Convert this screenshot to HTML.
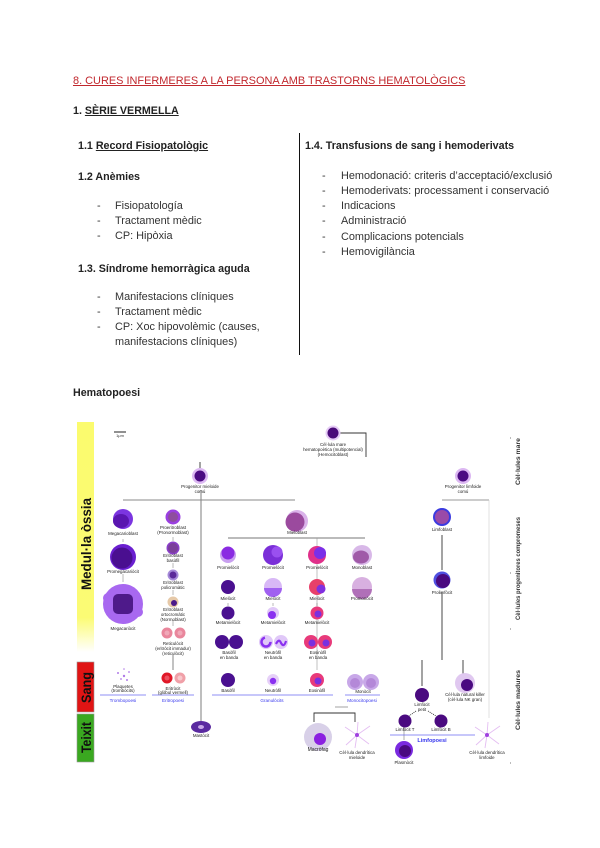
<!DOCTYPE html>
<html><head><meta charset="utf-8">
<style>
html,body{margin:0;padding:0;background:#fff;}
body{width:600px;height:848px;position:relative;overflow:hidden;font-family:"Liberation Sans",sans-serif;}
.t{position:absolute;white-space:nowrap;font-size:10.7px;line-height:12px;color:#222;}
.b{font-weight:bold;}
.u{text-decoration:underline;}
.li{color:#333;font-size:10.9px;}
</style></head><body>

<div class="t" style="left:73px;top:75px;font-size:10.95px;color:#c1272d;text-decoration:underline;">8. CURES INFERMERES A LA PERSONA AMB TRASTORNS HEMATOLÒGICS</div>
<div class="t b" style="left:73px;top:105px;">1. <span class="u">SÈRIE VERMELLA</span></div>

<div class="t b" style="left:78px;top:140px;">1.1 <span class="u">Record Fisiopatològic</span></div>
<div class="t b" style="left:78px;top:171px;">1.2 Anèmies</div>
<div class="t li" style="left:97px;top:200px;">-</div><div class="t li" style="left:115px;top:200px;">Fisiopatología</div>
<div class="t li" style="left:97px;top:215px;">-</div><div class="t li" style="left:115px;top:215px;">Tractament mèdic</div>
<div class="t li" style="left:97px;top:230px;">-</div><div class="t li" style="left:115px;top:230px;">CP: Hipòxia</div>
<div class="t b" style="left:78px;top:263px;">1.3. Síndrome hemorràgica aguda</div>
<div class="t li" style="left:97px;top:291px;">-</div><div class="t li" style="left:115px;top:291px;">Manifestacions clíniques</div>
<div class="t li" style="left:97px;top:306px;">-</div><div class="t li" style="left:115px;top:306px;">Tractament mèdic</div>
<div class="t li" style="left:97px;top:321px;">-</div><div class="t li" style="left:115px;top:321px;">CP: Xoc hipovolèmic (causes,</div>
<div class="t li" style="left:115px;top:336px;">manifestacions clíniques)</div>

<div style="position:absolute;left:298.5px;top:133px;width:1.4px;height:222px;background:#111;"></div>

<div class="t b" style="left:305px;top:140px;">1.4. Transfusions de sang i hemoderivats</div>
<div class="t li" style="left:322px;top:170px;">-</div><div class="t li" style="left:341px;top:170px;">Hemodonació: criteris d’acceptació/exclusió</div>
<div class="t li" style="left:322px;top:185px;">-</div><div class="t li" style="left:341px;top:185px;">Hemoderivats: processament i conservació</div>
<div class="t li" style="left:322px;top:200px;">-</div><div class="t li" style="left:341px;top:200px;">Indicacions</div>
<div class="t li" style="left:322px;top:215px;">-</div><div class="t li" style="left:341px;top:215px;">Administració</div>
<div class="t li" style="left:322px;top:231px;">-</div><div class="t li" style="left:341px;top:231px;">Complicacions potencials</div>
<div class="t li" style="left:322px;top:246px;">-</div><div class="t li" style="left:341px;top:246px;">Hemovigilància</div>

<div class="t b" style="left:73px;top:387px;">Hematopoesi</div>

<svg style="position:absolute;left:0;top:0;" width="600" height="848" viewBox="0 0 600 848" font-family="Liberation Sans, sans-serif">
<defs>
<linearGradient id="yg" x1="0" y1="0" x2="0" y2="1">
<stop offset="0" stop-color="#fbfb6e"/><stop offset="0.85" stop-color="#fbfb74"/><stop offset="1" stop-color="#ffffff"/>
</linearGradient>
</defs>
<!-- left bars -->
<rect x="77" y="422" width="17" height="230" fill="url(#yg)"/>
<rect x="77" y="662" width="17" height="50" fill="#e01414" stroke="#999" stroke-width="0.6"/>
<rect x="77" y="714" width="17" height="48" fill="#3aa820" stroke="#999" stroke-width="0.6"/>
<text transform="translate(91,590) rotate(-90)" font-size="14" font-weight="bold" fill="#111" textLength="92" lengthAdjust="spacingAndGlyphs">Medul·la òssia</text>
<text transform="translate(91,703) rotate(-90)" font-size="14" font-weight="bold" fill="#111" textLength="31" lengthAdjust="spacingAndGlyphs">Sang</text>
<text transform="translate(91,753) rotate(-90)" font-size="14" font-weight="bold" fill="#111" textLength="31" lengthAdjust="spacingAndGlyphs">Teixit</text>

<!-- right labels -->
<text transform="translate(520,485) rotate(-90)" font-size="6" font-weight="bold" fill="#333" textLength="47" lengthAdjust="spacingAndGlyphs">Cèl·lules mare</text>
<text transform="translate(520,620) rotate(-90)" font-size="6" font-weight="bold" fill="#333" textLength="103" lengthAdjust="spacingAndGlyphs">Cèl·lules progenitores compromeses</text>
<text transform="translate(520,730) rotate(-90)" font-size="6.5" font-weight="bold" fill="#333" textLength="60" lengthAdjust="spacingAndGlyphs">Cèl·lules madures</text>
<g fill="#bbb"><rect x="510" y="437" width="1" height="2"/><rect x="510" y="572" width="1" height="2"/><rect x="510" y="628" width="1" height="2"/><rect x="510" y="762" width="1" height="2"/></g>

<!-- scale -->
<line x1="114" y1="432" x2="126" y2="432" stroke="#222" stroke-width="1"/>
<text x="120" y="437" font-size="4" text-anchor="middle" fill="#333">1μm</text>

<!-- lines -->
<g stroke="#333" stroke-width="0.9" fill="none">
<polyline points="340,433 366,433 366,457"/>
<line x1="200" y1="462" x2="200" y2="468"/>
<line x1="123" y1="500" x2="295" y2="500" stroke="#888"/>
<line x1="201" y1="490" x2="201" y2="722" stroke="#888" stroke-width="1.1"/>
<line x1="228" y1="538" x2="365" y2="538" stroke="#777"/>
<line x1="317" y1="538" x2="317" y2="670" stroke="#999" stroke-width="0.6"/>
<line x1="442" y1="500" x2="489" y2="500" stroke="#999"/>
<line x1="489" y1="500" x2="489" y2="718" stroke="#ccc" stroke-width="0.6"/>
<line x1="442" y1="535" x2="442" y2="570"/>
<line x1="442" y1="592" x2="442" y2="660"/>
<line x1="422" y1="660" x2="422" y2="686"/>
<line x1="463" y1="660" x2="463" y2="675"/>
<line x1="173" y1="655" x2="173" y2="670" stroke="#777"/>
<polyline points="314,722 314,713 355,713 355,722"/>
<line x1="335" y1="707" x2="348" y2="707" stroke="#999"/>
<line x1="416" y1="711" x2="409" y2="716" stroke-dasharray="1,1"/>
<line x1="428" y1="711" x2="436" y2="716" stroke-dasharray="1,1"/>
<line x1="404" y1="728" x2="404" y2="740" stroke="#777" stroke-width="0.6"/>
</g>
<!-- small arrows in columns -->
<g stroke="#777" stroke-width="0.5">
<line x1="173" y1="537" x2="173" y2="541"/><line x1="173" y1="563" x2="173" y2="568"/><line x1="173" y1="590" x2="173" y2="595"/><line x1="173" y1="620" x2="173" y2="626"/>
<line x1="123" y1="539" x2="123" y2="542"/><line x1="123" y1="574" x2="123" y2="582"/>
<line x1="317" y1="603" x2="317" y2="606"/><line x1="273" y1="603" x2="273" y2="606"/><line x1="228" y1="603" x2="228" y2="606"/>
</g>

<!-- blue lines -->
<g stroke="#6a6af2" stroke-width="0.8">
<line x1="100" y1="695" x2="146" y2="695"/>
<line x1="152" y1="695" x2="194" y2="695"/>
<line x1="212" y1="695" x2="333" y2="695"/>
<line x1="345" y1="695" x2="380" y2="695"/>
<line x1="390" y1="735" x2="475" y2="735"/>
</g>
<g fill="#3838ee" font-size="4.6" text-anchor="middle">
<text x="123" y="702">Trombopoesi</text>
<text x="173" y="702">Eritropoesi</text>
<text x="272" y="702">Granulòcits</text>
<text x="362" y="702">Monocitopoesi</text>
<text x="432" y="742" font-size="5.5" font-weight="bold">Limfopoesi</text>
</g>

<!-- cells -->
<circle cx="333" cy="433" r="7.5" fill="#e6ccf6"/><circle cx="333" cy="433" r="5.5" fill="#4a0a7a"/>
<circle cx="200" cy="476" r="8" fill="#dcb8f2"/><circle cx="200" cy="476" r="5.5" fill="#4b0b82"/>
<circle cx="463" cy="476" r="8" fill="#dcb8f2"/><circle cx="463" cy="476" r="5.5" fill="#4b0b82"/>

<!-- megakaryocyte line -->
<circle cx="123" cy="519" r="10" fill="#7b35e0"/><ellipse cx="121" cy="521" rx="8" ry="7" fill="#5a16b0"/>
<circle cx="123" cy="557" r="13" fill="#6a1fd0"/><circle cx="122" cy="558" r="10.5" fill="#4a0f90"/>
<circle cx="123" cy="604" r="20" fill="#a868f0"/><circle cx="108" cy="598" r="5" fill="#a868f0"/><circle cx="138" cy="612" r="5" fill="#a868f0"/>
<rect x="113" y="594" width="20" height="20" rx="5" fill="#4e1a8a"/>
<g fill="#b07be8"><circle cx="118" cy="673" r="1"/><circle cx="124" cy="676" r="1.2"/><circle cx="129" cy="672" r="0.9"/><circle cx="121" cy="679" r="0.9"/><circle cx="127" cy="680" r="1"/><circle cx="124" cy="669" r="0.8"/></g>

<!-- erythroid -->
<circle cx="173" cy="517" r="7.5" fill="#9a3fe0"/><circle cx="173" cy="517" r="5" fill="#8e4d9e"/>
<circle cx="173" cy="548" r="6.5" fill="#8a3ec9"/><circle cx="173" cy="548" r="5" fill="#7b3f9a"/>
<circle cx="173" cy="575" r="5.5" fill="#a58ad8"/><circle cx="173" cy="575" r="3.5" fill="#5b2a9a"/>
<circle cx="173" cy="602" r="5.5" fill="#e6c9a8"/><circle cx="174" cy="603" r="3" fill="#4b1a8a"/>
<circle cx="167" cy="633" r="5.5" fill="#e9869c"/><circle cx="167" cy="633" r="2.5" fill="#f0a8b8"/>
<circle cx="180" cy="633" r="5.5" fill="#e9869c"/><circle cx="180" cy="633" r="2.5" fill="#f0a8b8"/>
<circle cx="167" cy="678" r="5.5" fill="#e01828"/><circle cx="167" cy="678" r="2.5" fill="#ee5060"/>
<circle cx="180" cy="678" r="5.5" fill="#f0a0a8"/><circle cx="180" cy="678" r="2.5" fill="#f8c8cc"/>

<!-- myeloid -->
<circle cx="297" cy="521" r="11" fill="#dab2ea"/><circle cx="295" cy="522" r="9.5" fill="#9b4a9e"/>
<circle cx="228" cy="555" r="8" fill="#c9a0f0"/><circle cx="228" cy="553" r="6.5" fill="#8a2be2"/>
<circle cx="273" cy="555" r="10" fill="#7b2fd8"/><circle cx="277" cy="552" r="5.5" fill="#9a50f0"/>
<circle cx="317" cy="555" r="9" fill="#e0308a"/><circle cx="320" cy="553" r="6" fill="#7a2fe8"/>
<circle cx="362" cy="555" r="10" fill="#d8b8e8"/><ellipse cx="361" cy="557" rx="8" ry="6.5" fill="#a05aa8"/>

<circle cx="228" cy="587" r="7" fill="#4a1090"/>
<circle cx="273" cy="587" r="9" fill="#d8b8f6"/><path d="M264,588 A9,9 0 0 0 282,588 Z" fill="#a060f0"/>
<circle cx="317" cy="587" r="8" fill="#e8406a"/><circle cx="321" cy="589" r="4.5" fill="#8030e0"/>
<circle cx="362" cy="587" r="10" fill="#d8b0e0"/><path d="M352,589 A10,10 0 0 0 372,589 Z" fill="#b070b8"/>

<circle cx="228" cy="613" r="6.5" fill="#4a1090"/>
<circle cx="273" cy="613" r="6" fill="#e0c8f8"/><circle cx="272" cy="615" r="4" fill="#8a30f0"/>
<circle cx="317" cy="613" r="6.5" fill="#e83a7a"/><circle cx="318" cy="614" r="3.5" fill="#7a30e0"/>

<circle cx="222" cy="642" r="7" fill="#4a1090"/><circle cx="236" cy="642" r="7" fill="#4a1090"/>
<circle cx="266" cy="642" r="7" fill="#e0c8f8"/><circle cx="266" cy="642" r="4.5" fill="none" stroke="#8a30f0" stroke-width="2.5" stroke-dasharray="20,8"/>
<circle cx="281" cy="642" r="7" fill="#e0c8f8"/><path d="M276,644 Q279,638 281,643 Q284,648 286,641" stroke="#8a30f0" stroke-width="2.2" fill="none"/>
<circle cx="311" cy="642" r="7" fill="#e83a7a"/><circle cx="312" cy="643" r="3.5" fill="#7a30e0"/>
<circle cx="325" cy="642" r="7" fill="#e83a7a"/><circle cx="326" cy="643" r="3.5" fill="#7a30e0"/>

<circle cx="228" cy="680" r="7" fill="#4a1090"/>
<circle cx="273" cy="680" r="6" fill="#e6d0f8"/><circle cx="273" cy="681" r="3.2" fill="#8a30f0"/>
<circle cx="317" cy="680" r="7" fill="#e83a7a"/><circle cx="318" cy="681" r="3.5" fill="#7a30e0"/>
<circle cx="355" cy="682" r="8" fill="#c8a8e8"/><circle cx="355" cy="683" r="5" fill="#b488d8"/>
<circle cx="371" cy="682" r="8" fill="#c8a8e8"/><circle cx="371" cy="683" r="5" fill="#b488d8"/>

<ellipse cx="201" cy="727" rx="10" ry="6" fill="#5a2aa0"/><ellipse cx="201" cy="727" rx="3" ry="2" fill="#c8a8e8"/>

<circle cx="318" cy="737" r="14" fill="#d8d0e8"/><circle cx="320" cy="739" r="6" fill="#8a20e0"/>
<g stroke="#e4bef2" stroke-width="0.9"><line x1="357" y1="735" x2="345" y2="727"/><line x1="357" y1="735" x2="370" y2="726"/><line x1="357" y1="735" x2="346" y2="745"/><line x1="357" y1="735" x2="369" y2="744"/><line x1="357" y1="735" x2="358" y2="722"/><line x1="357" y1="735" x2="355" y2="748"/></g>
<circle cx="357" cy="735" r="2" fill="#a040e0"/>

<!-- lymphoid -->
<circle cx="442" cy="517" r="9" fill="#3b3be0"/><circle cx="442" cy="517" r="7" fill="#9a4aa8"/>
<circle cx="442" cy="580" r="8.5" fill="#5050e0"/><circle cx="443" cy="581" r="7" fill="#4a0a80"/>
<circle cx="422" cy="695" r="7" fill="#4a0a80"/>
<circle cx="465" cy="683" r="10" fill="#e0c8f0"/><circle cx="467" cy="685" r="6" fill="#4a0a80"/>
<circle cx="405" cy="721" r="6.5" fill="#4a0a80"/>
<circle cx="441" cy="721" r="6.5" fill="#4a0a80"/>
<circle cx="404" cy="750" r="9" fill="#7a2ae0"/><circle cx="405" cy="751" r="6" fill="#4a0a80"/>
<g stroke="#e4bef2" stroke-width="0.9"><line x1="487" y1="735" x2="475" y2="727"/><line x1="487" y1="735" x2="500" y2="726"/><line x1="487" y1="735" x2="476" y2="745"/><line x1="487" y1="735" x2="499" y2="744"/><line x1="487" y1="735" x2="488" y2="722"/><line x1="487" y1="735" x2="485" y2="748"/></g>
<circle cx="487" cy="735" r="2" fill="#a040e0"/>

<!-- labels -->
<g fill="#222" font-size="4.4" text-anchor="middle">
<text x="333" y="446">Cèl·lula mare</text>
<text x="333" y="451">hematopoètica (multipotencial)</text>
<text x="333" y="456">(Hemocitoblast)</text>
<text x="200" y="488">Progenitor mieloide</text>
<text x="200" y="493">comú</text>
<text x="463" y="488">Progenitor limfoide</text>
<text x="463" y="493">comú</text>
<text x="123" y="535">Megacarioblast</text>
<text x="123" y="573">Promegacariòcit</text>
<text x="123" y="630">Megacariòcit</text>
<text x="123" y="688">Plaquetes</text>
<text x="123" y="692">(trombòcits)</text>
<text x="173" y="529">Proeritroblast</text>
<text x="173" y="534">(Pronormoblast)</text>
<text x="173" y="557">Eritroblast</text>
<text x="173" y="562">basòfil</text>
<text x="173" y="584">Eritroblast</text>
<text x="173" y="589">policromàtic</text>
<text x="173" y="611">Eritroblast</text>
<text x="173" y="616">ortocromàtic</text>
<text x="173" y="621">(Normoblast)</text>
<text x="173" y="645">Reticulòcit</text>
<text x="173" y="650">(eritròcit immadur)</text>
<text x="173" y="655">(reticulòcit)</text>
<text x="173" y="690">Eritròcit</text>
<text x="173" y="694">(glòbul vermell)</text>
<text x="297" y="534">Mieloblast</text>
<text x="228" y="569">Promielòcit</text>
<text x="273" y="569">Promielòcit</text>
<text x="317" y="569">Promielòcit</text>
<text x="362" y="569">Monoblast</text>
<text x="228" y="600">Mielòcit</text>
<text x="273" y="600">Mielòcit</text>
<text x="317" y="600">Mielòcit</text>
<text x="362" y="600">Promonòcit</text>
<text x="228" y="624">Metamielòcit</text>
<text x="273" y="624">Metamielòcit</text>
<text x="317" y="624">Metamielòcit</text>
<text x="229" y="654">Basòfil</text><text x="229" y="659">en banda</text>
<text x="273" y="654">Neutròfil</text><text x="273" y="659">en banda</text>
<text x="318" y="654">Eosinòfil</text><text x="318" y="659">en banda</text>
<text x="228" y="692">Basòfil</text>
<text x="273" y="692">Neutròfil</text>
<text x="317" y="692">Eosinòfil</text>
<text x="363" y="693">Monòcit</text>
<text x="201" y="737">Mastòcit</text>
<text x="318" y="751" font-size="5">Macròfag</text>
<text x="357" y="754">Cèl·lula dendrítica</text>
<text x="357" y="759">mieloide</text>
<text x="442" y="531">Limfoblast</text>
<text x="442" y="594">Prolimfòcit</text>
<text x="422" y="706">Limfòcit</text>
<text x="422" y="711">petit</text>
<text x="465" y="696">Cèl·lula natural killer</text>
<text x="465" y="701">(cèl·lula NK gran)</text>
<text x="405" y="731">Limfòcit T</text>
<text x="441" y="731">Limfòcit B</text>
<text x="404" y="764">Plasmòcit</text>
<text x="487" y="754">Cèl·lula dendrítica</text>
<text x="487" y="759">limfoide</text>
</g>
</svg>
</body></html>
